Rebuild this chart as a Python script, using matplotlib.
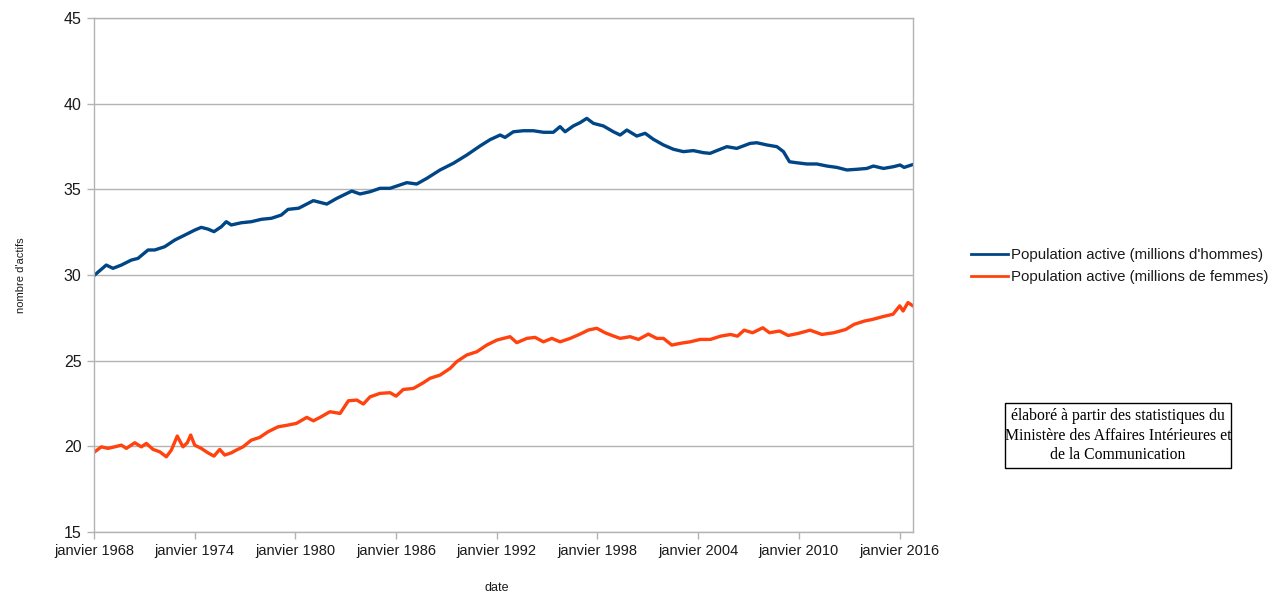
import matplotlib
matplotlib.use("Agg")
import matplotlib.pyplot as plt
from matplotlib.patches import Rectangle
from matplotlib.lines import Line2D

# ---- data (year as decimal, millions of people) ----
men_years = [1968.04, 1968.73, 1969.13, 1969.63, 1970.22, 1970.62, 1971.22, 1971.62,
             1972.21, 1972.81, 1973.41, 1974.00, 1974.39, 1974.79, 1975.15, 1975.59,
             1975.88, 1976.18, 1976.78, 1977.37, 1977.97, 1978.57, 1979.16, 1979.56,
             1980.20, 1981.07, 1981.87, 1982.46, 1983.36, 1983.85, 1984.45, 1985.04,
             1985.64, 1986.64, 1987.23, 1987.83, 1988.62, 1989.41, 1990.21, 1991.00,
             1991.60, 1992.20, 1992.49, 1992.99, 1993.58, 1994.18, 1994.78, 1995.37,
             1995.77, 1996.07, 1996.56, 1996.96, 1997.36, 1997.76, 1998.35, 1998.95,
             1999.35, 1999.75, 2000.34, 2000.84, 2001.33, 2001.93, 2002.52, 2003.12,
             2003.71, 2004.31, 2004.71, 2005.11, 2005.71, 2006.30, 2007.09, 2007.49,
             2008.09, 2008.69, 2009.08, 2009.44, 2009.88, 2010.47, 2011.07, 2011.67,
             2012.26, 2012.86, 2013.45, 2014.05, 2014.44, 2015.04, 2015.63, 2016.03,
             2016.27, 2016.80]
men_values = [30.00, 30.58, 30.39, 30.58, 30.87, 30.97, 31.46, 31.46,
              31.65, 32.04, 32.33, 32.62, 32.78, 32.68, 32.53, 32.82,
              33.11, 32.92, 33.05, 33.11, 33.25, 33.31, 33.50, 33.83,
              33.90, 34.34, 34.14, 34.47, 34.90, 34.73, 34.86, 35.06,
              35.06, 35.39, 35.31, 35.64, 36.13, 36.52, 37.00, 37.53,
              37.90, 38.17, 38.03, 38.36, 38.42, 38.42, 38.33, 38.33,
              38.66, 38.36, 38.70, 38.89, 39.14, 38.85, 38.70, 38.36,
              38.17, 38.46, 38.11, 38.27, 37.92, 37.59, 37.34, 37.20,
              37.26, 37.14, 37.10, 37.26, 37.49, 37.39, 37.68, 37.72,
              37.59, 37.49, 37.20, 36.61, 36.55, 36.48, 36.48, 36.36,
              36.28, 36.13, 36.17, 36.22, 36.36, 36.22, 36.32, 36.42,
              36.28, 36.45]

women_years = [1968.04, 1968.44, 1968.83, 1969.23, 1969.63, 1969.93, 1970.43, 1970.82,
               1971.12, 1971.52, 1971.92, 1972.31, 1972.61, 1972.96, 1973.30, 1973.56,
               1973.76, 1974.00, 1974.39, 1974.79, 1975.15, 1975.49, 1975.79, 1976.18,
               1976.48, 1976.88, 1977.37, 1977.87, 1978.37, 1978.97, 1979.56, 1980.06,
               1980.68, 1981.07, 1981.47, 1982.06, 1982.66, 1983.16, 1983.66, 1984.05,
               1984.45, 1985.04, 1985.64, 1986.00, 1986.43, 1987.03, 1987.62, 1988.02,
               1988.62, 1989.22, 1989.61, 1990.21, 1990.81, 1991.40, 1992.00, 1992.79,
               1993.19, 1993.79, 1994.28, 1994.78, 1995.28, 1995.77, 1996.37, 1996.96,
               1997.46, 1997.96, 1998.45, 1998.95, 1999.35, 1999.94, 2000.44, 2001.03,
               2001.53, 2001.93, 2002.43, 2002.92, 2003.52, 2004.12, 2004.73, 2005.33,
               2005.93, 2006.34, 2006.74, 2007.24, 2007.85, 2008.25, 2008.85, 2009.36,
               2009.96, 2010.67, 2011.37, 2012.08, 2012.79, 2013.29, 2013.90, 2014.40,
               2015.00, 2015.61, 2016.01, 2016.21, 2016.50, 2016.80]
women_values = [19.68, 19.97, 19.88, 19.97, 20.07, 19.88, 20.21, 19.97,
                20.17, 19.82, 19.68, 19.39, 19.78, 20.60, 19.97, 20.21,
                20.66, 20.07, 19.88, 19.62, 19.43, 19.82, 19.49, 19.62,
                19.78, 19.97, 20.36, 20.52, 20.85, 21.14, 21.24, 21.34,
                21.69, 21.49, 21.69, 22.02, 21.92, 22.66, 22.70, 22.47,
                22.89, 23.09, 23.13, 22.93, 23.32, 23.38, 23.71, 23.97,
                24.16, 24.55, 24.94, 25.33, 25.52, 25.91, 26.20, 26.40,
                26.05, 26.30, 26.36, 26.10, 26.30, 26.10, 26.30, 26.55,
                26.79, 26.89, 26.63, 26.44, 26.30, 26.40, 26.24, 26.55,
                26.30, 26.30, 25.91, 26.01, 26.10, 26.24, 26.24, 26.43,
                26.53, 26.43, 26.78, 26.63, 26.92, 26.63, 26.73, 26.47,
                26.59, 26.78, 26.53, 26.63, 26.82, 27.12, 27.31, 27.41,
                27.57, 27.71, 28.20, 27.90, 28.39, 28.20]

tick_years = [1968, 1974, 1980, 1986, 1992, 1998, 2004, 2010, 2016]
tick_labels = ["janvier 1968", "janvier 1974", "janvier 1980", "janvier 1986",
               "janvier 1992", "janvier 1998", "janvier 2004", "janvier 2010",
               "janvier 2016"]
y_ticks = [15, 20, 25, 30, 35, 40, 45]

series_names = ["Population active (millions d'hommes)",
                "Population active (millions de femmes)"]
note_text = ("élaboré à partir des statistiques du\n"
             "Ministère des Affaires Intérieures et\n"
             "de la Communication")

# ---- styling ----
BLUE = "#004586"
ORANGE = "#ff420e"
GRID = "#b3b3b3"
TXT = "#1a1a1a"
W, H = 1282, 598

plt.rcParams['font.family'] = ['Liberation Sans', 'DejaVu Sans']

fig = plt.figure(figsize=(W / 100, H / 100), dpi=100)
ax = fig.add_axes([94 / W, (H - 532) / H, (913 - 94) / W, (532 - 18) / H])

ax.plot(men_years, men_values, color=BLUE, lw=2.4, solid_joinstyle='round')
ax.plot(women_years, women_values, color=ORANGE, lw=2.4, solid_joinstyle='round')

ax.set_xlim(1968, 2016.8)
ax.set_ylim(15, 45)
ax.set_yticks(y_ticks)
ax.set_xticks(tick_years)
ax.set_xticklabels(tick_labels)
ax.yaxis.grid(True, color=GRID, lw=1)
ax.set_axisbelow(True)
for s in ax.spines.values():
    s.set_color(GRID)
    s.set_linewidth(1)
ax.tick_params(axis='both', color=GRID, length=5, width=1, labelsize=10.5,
               labelcolor=TXT, pad=4)
ax.tick_params(axis='y', labelsize=11.5)

ax.set_xlabel("date", fontsize=9, color=TXT)
ax.xaxis.set_label_coords((497 - 94) / 819, -0.098)
ax.set_ylabel("nombre d'actifs", fontsize=8, color=TXT)
ax.yaxis.set_label_coords(-0.083, 0.5)

handles = [Line2D([], [], color=BLUE, lw=2), Line2D([], [], color=ORANGE, lw=2)]
fig.legend(handles, series_names, loc='center left',
           bbox_to_anchor=(971 / W, 1 - 266 / H), frameon=False, fontsize=10.8,
           handlelength=2.5, handletextpad=0.15, labelspacing=0.55,
           borderaxespad=0, borderpad=0, labelcolor=TXT)

fig.patches.append(Rectangle((1005 / W, 1 - 468 / H), 226 / W, 65 / H,
                             transform=fig.transFigure, fill=False,
                             ec='black', lw=1))
fig.text(1118 / W, 1 - 435.5 / H, note_text, ha='center', va='center',
         family=['Liberation Serif', 'DejaVu Serif'], fontsize=11.3,
         color='black', linespacing=1.3)

fig.savefig("out.png", dpi=100)
